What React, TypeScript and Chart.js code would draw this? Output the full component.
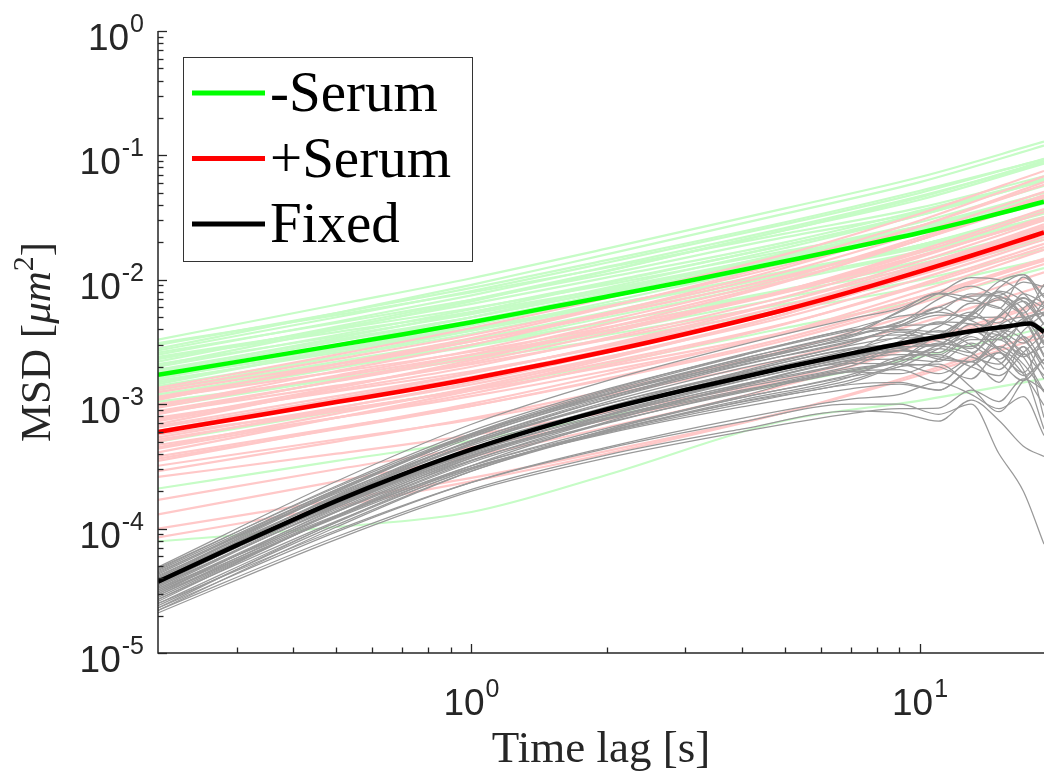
import React, { useEffect, useRef } from 'react';
import { Chart, registerables } from 'chart.js';

Chart.register(...registerables);

// ---------- data ----------
const tMean = [0.2, 0.3, 0.5, 0.7, 1, 1.5, 2, 3, 5, 7, 10, 13, 16, 18.9];
const meanMinusSerum = [1.72e-3, 2.19e-3, 2.97e-3, 3.63e-3, 4.56e-3, 6.01e-3, 7.31e-3, 9.7e-3, 1.41e-2, 1.81e-2, 2.39e-2, 2.99e-2, 3.62e-2, 4.25e-2];
const meanPlusSerum = [5.98e-4, 7.64e-4, 1.04e-3, 1.27e-3, 1.6e-3, 2.14e-3, 2.65e-3, 3.67e-3, 5.75e-3, 8.0e-3, 1.17e-2, 1.56e-2, 1.98e-2, 2.4e-2];
const tFixedMean = [0.2, 0.3, 0.5, 0.7, 1, 1.5, 2, 3, 5, 7, 10, 13, 16, 17.6, 18.9];
const meanFixed = [3.74e-5, 7.36e-5, 1.67e-4, 2.72e-4, 4.33e-4, 6.82e-4, 9.09e-4, 1.3e-3, 1.97e-3, 2.55e-3, 3.28e-3, 3.86e-3, 4.28e-3, 4.45e-3, 3.8e-3];

const tSerum = [0.2, 0.5, 1, 2, 5, 10, 18.9];
const tracksMinusSerum: number[][] = [
  [3.3e-3, 6.3e-3, 1.03e-2, 1.78e-2, 3.75e-2, 6.7e-2, 1.29e-1],
  [3.0e-3, 5.4e-3, 8.6e-3, 1.44e-2, 2.9e-2, 5.2e-2, 9.3e-2],
  [2.8e-3, 5.4e-3, 9.1e-3, 1.6e-2, 3.4e-2, 6.1e-2, 1.2e-1],
  [2.6e-3, 4.5e-3, 6.9e-3, 1.11e-2, 2.2e-2, 3.5e-2, 6.4e-2],
  [2.5e-3, 4.6e-3, 7.5e-3, 1.27e-2, 2.6e-2, 4.7e-2, 8.7e-2],
  [2.4e-3, 4.0e-3, 5.9e-3, 9.1e-3, 1.7e-2, 2.7e-2, 4.7e-2],
  [2.3e-3, 4.1e-3, 6.4e-3, 1.04e-2, 2.0e-2, 3.6e-2, 6.4e-2],
  [2.2e-3, 4.2e-3, 6.9e-3, 1.18e-2, 2.5e-2, 4.4e-2, 8.6e-2],
  [2.1e-3, 3.5e-3, 5.3e-3, 8.4e-3, 1.6e-2, 2.6e-2, 4.6e-2],
  [2.0e-3, 3.6e-3, 5.8e-3, 9.6e-3, 1.9e-2, 3.4e-2, 6.2e-2],
  [1.9e-3, 3.3e-3, 5.0e-3, 8.1e-3, 1.55e-2, 2.7e-2, 4.7e-2],
  [1.85e-3, 3.4e-3, 5.5e-3, 9.4e-3, 1.9e-2, 3.3e-2, 6.5e-2],
  [1.75e-3, 2.8e-3, 4.1e-3, 6.3e-3, 1.13e-2, 1.8e-2, 3.1e-2],
  [1.7e-3, 3.0e-3, 4.7e-3, 7.7e-3, 1.5e-2, 2.6e-2, 4.7e-2],
  [1.6e-3, 3.0e-3, 5.0e-3, 8.6e-3, 1.8e-2, 3.3e-2, 6.3e-2],
  [1.55e-3, 2.6e-3, 3.9e-3, 6.2e-3, 1.17e-2, 1.9e-2, 3.4e-2],
  [1.5e-3, 2.7e-3, 4.3e-3, 7.2e-3, 1.45e-2, 2.5e-2, 4.7e-2],
  [1.4e-3, 2.4e-3, 3.7e-3, 6.0e-3, 1.15e-2, 1.9e-2, 3.5e-2],
  [1.35e-3, 2.1e-3, 3.0e-3, 4.6e-3, 8.0e-3, 1.25e-2, 2.1e-2],
  [1.3e-3, 2.4e-3, 3.9e-3, 6.6e-3, 1.36e-2, 2.4e-2, 4.5e-2],
  [1.2e-3, 2.0e-3, 2.9e-3, 4.5e-3, 8.4e-3, 1.35e-2, 2.35e-2],
  [1.1e-3, 1.95e-3, 3.0e-3, 5.0e-3, 9.8e-3, 1.66e-2, 3.0e-2],
  [1.05e-3, 1.6e-3, 2.3e-3, 3.3e-3, 5.7e-3, 8.8e-3, 1.46e-2],
  [9.5e-4, 1.6e-3, 2.4e-3, 3.8e-3, 7.2e-3, 1.18e-2, 2.1e-2],
  [8.5e-4, 1.54e-3, 2.4e-3, 4.1e-3, 8.2e-3, 1.42e-2, 2.6e-2],
  [5.0e-4, 8.7e-4, 1.33e-3, 2.1e-3, 4.1e-3, 6.8e-3, 1.24e-2],
  [2.1e-4, 3.5e-4, 5.1e-4, 8.0e-4, 1.46e-3, 2.4e-3, 4.1e-3],
  [7.9e-5, 1.03e-4, 1.36e-4, 2.7e-4, 7.4e-4, 1.07e-3, 1.6e-3],
  [3.1e-3, 5.2e-3, 7.9e-3, 1.25e-2, 2.35e-2, 3.8e-2, 6.8e-2],
  [2.7e-3, 5.0e-3, 8.1e-3, 1.37e-2, 2.8e-2, 5.0e-2, 9.4e-2],
  [2.35e-3, 3.8e-3, 5.5e-3, 8.4e-3, 1.5e-2, 2.4e-2, 4.1e-2],
  [2.05e-3, 4.0e-3, 6.7e-3, 1.17e-2, 2.5e-2, 4.6e-2, 9.0e-2],
  [1.8e-3, 3.2e-3, 5.0e-3, 8.1e-3, 1.6e-2, 2.7e-2, 5.0e-2],
  [1.65e-3, 2.7e-3, 4.0e-3, 6.3e-3, 1.15e-2, 1.85e-2, 3.2e-2],
  [1.45e-3, 2.75e-3, 4.5e-3, 7.8e-3, 1.65e-2, 2.9e-2, 5.7e-2],
  [1.25e-3, 2.2e-3, 3.3e-3, 5.3e-3, 1.03e-2, 1.7e-2, 3.1e-2],
  [1.15e-3, 2.1e-3, 3.3e-3, 5.5e-3, 1.1e-2, 1.9e-2, 3.6e-2],
  [1.0e-3, 1.6e-3, 2.35e-3, 3.6e-3, 6.4e-3, 1.0e-2, 1.75e-2],
];
const tracksPlusSerum: number[][] = [
  [1.35e-3, 2.5e-3, 4.1e-3, 7.1e-3, 1.6e-2, 3.4e-2, 7.5e-2],
  [1.25e-3, 2.1e-3, 3.2e-3, 5.2e-3, 1.07e-2, 2.1e-2, 4.4e-2],
  [1.15e-3, 2.0e-3, 3.2e-3, 5.4e-3, 1.16e-2, 2.4e-2, 5.1e-2],
  [1.08e-3, 2.1e-3, 3.4e-3, 6.0e-3, 1.39e-2, 3.0e-2, 6.8e-2],
  [1.0e-3, 1.66e-3, 2.5e-3, 3.9e-3, 7.9e-3, 1.55e-2, 3.1e-2],
  [9.4e-4, 1.7e-3, 2.7e-3, 4.7e-3, 1.03e-2, 2.2e-2, 4.7e-2],
  [8.8e-4, 1.53e-3, 2.35e-3, 3.9e-3, 8.2e-3, 1.66e-2, 3.5e-2],
  [8.3e-4, 1.55e-3, 2.5e-3, 4.4e-3, 9.8e-3, 2.1e-2, 4.6e-2],
  [7.8e-4, 1.27e-3, 1.84e-3, 2.9e-3, 5.7e-3, 1.1e-2, 2.2e-2],
  [7.3e-4, 1.3e-3, 2.0e-3, 3.4e-3, 7.3e-3, 1.52e-2, 3.2e-2],
  [6.9e-4, 1.35e-3, 2.26e-3, 4.1e-3, 9.6e-3, 2.1e-2, 4.8e-2],
  [6.5e-4, 1.1e-3, 1.66e-3, 2.7e-3, 5.6e-3, 1.11e-2, 2.3e-2],
  [6.1e-4, 1.11e-3, 1.77e-3, 3.0e-3, 6.7e-3, 1.41e-2, 3.0e-2],
  [5.7e-4, 9.0e-4, 1.29e-3, 2.0e-3, 3.8e-3, 7.3e-3, 1.42e-2],
  [5.4e-4, 9.4e-4, 1.44e-3, 2.4e-3, 5.0e-3, 1.02e-2, 2.1e-2],
  [5.0e-4, 9.3e-4, 1.5e-3, 2.6e-3, 5.9e-3, 1.27e-2, 2.8e-2],
  [4.7e-4, 7.8e-4, 1.16e-3, 1.85e-3, 3.7e-3, 7.3e-3, 1.48e-2],
  [4.4e-4, 7.8e-4, 1.22e-3, 2.06e-3, 4.4e-3, 9.2e-3, 1.95e-2],
  [4.1e-4, 7.8e-4, 1.29e-3, 2.3e-3, 5.3e-3, 1.15e-2, 2.6e-2],
  [3.8e-4, 6.5e-4, 9.7e-4, 1.58e-3, 3.25e-3, 6.5e-3, 1.34e-2],
  [3.5e-4, 6.4e-4, 1.01e-3, 1.74e-3, 3.8e-3, 8.1e-3, 1.74e-2],
  [3.2e-4, 5.2e-4, 7.5e-4, 1.19e-3, 2.3e-3, 4.5e-3, 9.0e-3],
  [2.9e-4, 5.0e-4, 7.7e-4, 1.28e-3, 2.7e-3, 5.5e-3, 1.15e-2],
  [2.6e-4, 4.0e-4, 5.65e-4, 8.6e-4, 1.6e-3, 3.0e-3, 5.8e-3],
  [1.7e-4, 3.0e-4, 4.5e-4, 7.5e-4, 1.58e-3, 3.2e-3, 6.7e-3],
  [1.3e-4, 2.4e-4, 3.8e-4, 6.5e-4, 1.42e-3, 3.0e-3, 6.5e-3],
  [1.0e-4, 1.7e-4, 2.56e-4, 4.2e-4, 8.6e-4, 1.71e-3, 3.5e-3],
  [8.5e-5, 1.5e-4, 2.4e-4, 4.0e-4, 8.6e-4, 1.78e-3, 3.8e-3],
  [1.3e-3, 2.3e-3, 3.6e-3, 6.1e-3, 1.31e-2, 2.7e-2, 5.8e-2],
  [1.12e-3, 1.82e-3, 2.64e-3, 4.15e-3, 8.1e-3, 1.57e-2, 3.1e-2],
  [9.7e-4, 1.85e-3, 3.0e-3, 5.4e-3, 1.25e-2, 2.7e-2, 6.1e-2],
  [8.5e-4, 1.41e-3, 2.1e-3, 3.3e-3, 6.7e-3, 1.32e-2, 2.7e-2],
  [7.5e-4, 1.37e-3, 2.17e-3, 3.7e-3, 8.2e-3, 1.73e-2, 3.7e-2],
  [6.7e-4, 1.16e-3, 1.79e-3, 2.96e-3, 6.2e-3, 1.27e-2, 2.65e-2],
  [5.9e-4, 1.05e-3, 1.64e-3, 2.76e-3, 5.9e-3, 1.23e-2, 2.6e-2],
  [5.2e-4, 8.8e-4, 1.33e-3, 2.17e-3, 4.45e-3, 8.9e-3, 1.83e-2],
  [4.5e-4, 8.4e-4, 1.36e-3, 2.37e-3, 5.3e-3, 1.15e-2, 2.5e-2],
  [3.65e-4, 6.3e-4, 9.7e-4, 1.61e-3, 3.4e-3, 6.9e-3, 1.44e-2],
];

const tFixed = [0.2, 0.5, 1, 2, 4, 7, 9, 11, 13, 15, 17, 18.9];
const tracksFixed: number[][] = [
  [4.9e-5, 2.4e-4, 6.9e-4, 1.54e-3, 3.0e-3, 4.85e-3, 5.9e-3, 7.7e-3, 6.7e-3, 9.7e-3, 1.1e-2, 7.4e-3],
  [4.6e-5, 2.06e-4, 5.5e-4, 1.15e-3, 2.08e-3, 3.17e-3, 4.2e-3, 5.2e-3, 5.1e-3, 4.5e-3, 7.7e-3, 6.5e-3],
  [4.4e-5, 2.06e-4, 5.7e-4, 1.23e-3, 2.31e-3, 3.63e-3, 4.0e-3, 3.8e-3, 5.3e-3, 7.9e-3, 5.1e-3, 3.1e-3],
  [4.2e-5, 1.79e-4, 4.66e-4, 9.3e-4, 1.63e-3, 2.42e-3, 2.8e-3, 2.3e-3, 2.2e-3, 3.6e-3, 4.6e-3, 2.5e-3],
  [4.1e-5, 2.0e-4, 5.8e-4, 1.29e-3, 2.51e-3, 4.05e-3, 5.1e-3, 5.6e-3, 7.7e-3, 7.4e-3, 4.9e-3, 2.4e-3],
  [4.0e-5, 1.79e-4, 4.8e-4, 1.0e-3, 1.81e-3, 2.76e-3, 3.0e-3, 4.2e-3, 5.5e-3, 3.7e-3, 2.4e-3, 3.3e-3],
  [3.9e-5, 1.83e-4, 5.1e-4, 1.09e-3, 2.05e-3, 3.22e-3, 3.9e-3, 3.6e-3, 5.4e-3, 8.1e-3, 6.7e-3, 4.4e-3],
  [3.8e-5, 1.55e-4, 3.9e-4, 7.5e-4, 1.27e-3, 1.83e-3, 1.9e-3, 1.5e-3, 2.2e-3, 1.5e-3, 2.9e-3, 7.8e-4],
  [3.7e-5, 1.73e-4, 4.8e-4, 1.04e-3, 1.95e-3, 3.06e-3, 4.3e-3, 5.5e-3, 4.7e-3, 3.8e-3, 5.9e-3, 7.8e-3],
  [3.6e-5, 1.61e-4, 4.3e-4, 9.0e-4, 1.63e-3, 2.48e-3, 2.7e-3, 3.6e-3, 4.9e-3, 5.0e-3, 3.5e-3, 1.9e-3],
  [3.5e-5, 1.49e-4, 3.9e-4, 7.8e-4, 1.36e-3, 2.02e-3, 2.7e-3, 2.4e-3, 2.2e-3, 3.4e-3, 4.9e-3, 5.5e-3],
  [3.5e-5, 1.72e-4, 4.9e-4, 1.1e-3, 2.14e-3, 3.46e-3, 4.6e-3, 6.0e-3, 7.4e-3, 7.5e-3, 9.6e-3, 8.8e-3],
  [3.4e-5, 1.52e-4, 4.1e-4, 8.5e-4, 1.54e-3, 2.35e-3, 2.7e-3, 2.6e-3, 4.0e-3, 2.7e-3, 1.8e-3, 3.6e-3],
  [3.3e-5, 1.28e-4, 3.1e-4, 5.8e-4, 9.5e-4, 1.33e-3, 1.45e-3, 1.3e-3, 2.0e-3, 2.9e-3, 2.1e-3, 1.25e-3],
  [3.3e-5, 1.54e-4, 4.3e-4, 9.2e-4, 1.74e-3, 2.73e-3, 3.5e-3, 4.5e-3, 3.8e-3, 5.0e-3, 7.1e-3, 6.0e-3],
  [3.2e-5, 1.36e-4, 3.55e-4, 7.1e-4, 1.24e-3, 1.84e-3, 2.2e-3, 3.0e-3, 3.9e-3, 2.8e-3, 1.9e-3, 6.3e-4],
  [3.1e-5, 1.39e-4, 3.7e-4, 7.7e-4, 1.4e-3, 2.14e-3, 2.85e-3, 2.95e-3, 2.6e-3, 4.3e-3, 5.0e-3, 4.0e-3],
  [3.0e-5, 1.47e-4, 4.2e-4, 9.4e-4, 1.84e-3, 2.97e-3, 3.4e-3, 3.5e-3, 5.2e-3, 6.9e-3, 5.2e-3, 3.0e-3],
  [3.0e-5, 1.22e-4, 3.06e-4, 5.9e-4, 1.0e-3, 1.44e-3, 1.5e-3, 1.3e-3, 2.0e-3, 2.6e-3, 1.75e-3, 9.8e-4],
  [2.9e-5, 1.36e-4, 3.8e-4, 8.1e-4, 1.53e-3, 2.4e-3, 2.9e-3, 3.0e-3, 4.4e-3, 4.0e-3, 3.1e-3, 4.5e-3],
  [2.8e-5, 1.25e-4, 3.4e-4, 7.0e-4, 1.27e-3, 1.93e-3, 2.1e-3, 2.0e-3, 1.6e-3, 2.6e-3, 1.7e-3, 2.3e-3],
  [2.7e-5, 1.15e-4, 3.0e-4, 6.0e-4, 1.05e-3, 1.56e-3, 2.1e-3, 2.8e-3, 2.4e-3, 2.1e-3, 3.5e-3, 2.1e-3],
  [2.6e-5, 1.27e-4, 3.7e-4, 8.2e-4, 1.59e-3, 2.57e-3, 3.1e-3, 3.0e-3, 3.7e-3, 5.1e-3, 6.7e-3, 4.4e-3],
  [2.5e-5, 9.7e-5, 2.35e-4, 4.4e-4, 7.2e-4, 1.0e-3, 1.0e-3, 8.3e-4, 1.0e-3, 4.0e-4, 2.0e-4, 7.5e-5],
  [2.4e-5, 1.07e-4, 2.9e-4, 6.0e-4, 1.08e-3, 1.66e-3, 2.4e-3, 2.5e-3, 2.0e-3, 1.7e-3, 2.6e-3, 3.7e-3],
  [2.3e-5, 9.4e-5, 2.35e-4, 4.5e-4, 7.7e-4, 1.1e-3, 1.2e-3, 1.5e-3, 1.2e-3, 9.2e-4, 1.15e-3, 5.6e-4],
  [2.2e-5, 1.03e-4, 2.9e-4, 6.2e-4, 1.16e-3, 1.82e-3, 1.76e-3, 2.3e-3, 3.3e-3, 3.3e-3, 2.5e-3, 2.9e-3],
  [2.1e-5, 8.2e-5, 2.0e-4, 3.7e-4, 6.0e-4, 8.4e-4, 9.2e-4, 9.3e-4, 1.3e-3, 1.05e-3, 1.6e-3, 1.3e-3],
  [3.8e-5, 1.86e-4, 5.4e-4, 1.19e-3, 2.33e-3, 3.76e-3, 5.5e-3, 7.8e-3, 1.04e-2, 1.0e-2, 7.8e-3, 5.1e-3],
  [4.3e-5, 2.0e-4, 5.6e-4, 1.2e-3, 2.26e-3, 3.55e-3, 5.6e-3, 7.8e-3, 7.1e-3, 5.9e-3, 1.05e-2, 7.2e-3],
  [4.7e-5, 2.2e-4, 6.1e-4, 1.32e-3, 2.47e-3, 3.88e-3, 4.5e-3, 7.0e-3, 8.9e-3, 7.1e-3, 5.4e-3, 9.2e-3],
  [4.5e-5, 1.92e-4, 5.0e-4, 1.0e-3, 1.75e-3, 2.59e-3, 3.8e-3, 3.2e-3, 2.8e-3, 5.2e-3, 7.2e-3, 4.4e-3],
  [4.0e-5, 1.96e-4, 5.6e-4, 1.26e-3, 2.45e-3, 3.96e-3, 4.3e-3, 6.0e-3, 4.8e-3, 8.6e-3, 1.1e-2, 6.1e-3],
  [3.9e-5, 1.59e-4, 4.0e-4, 7.7e-4, 1.3e-3, 1.88e-3, 2.3e-3, 3.4e-3, 2.6e-3, 1.9e-3, 2.9e-3, 1.6e-3],
  [3.7e-5, 1.58e-4, 4.1e-4, 8.2e-4, 1.44e-3, 2.13e-3, 2.1e-3, 1.76e-3, 2.45e-3, 3.6e-3, 2.4e-3, 1.27e-3],
  [3.6e-5, 1.76e-4, 5.1e-4, 1.13e-3, 2.2e-3, 3.56e-3, 4.3e-3, 4.4e-3, 6.5e-3, 6.0e-3, 4.3e-3, 6.7e-3],
  [3.4e-5, 1.59e-4, 4.4e-4, 9.5e-4, 1.79e-3, 2.81e-3, 3.1e-3, 3.9e-3, 3.0e-3, 2.3e-3, 3.9e-3, 5.3e-3],
  [3.2e-5, 1.43e-4, 3.84e-4, 8.0e-4, 1.45e-3, 2.21e-3, 3.2e-3, 4.6e-3, 4.4e-3, 3.3e-3, 4.6e-3, 6.0e-3],
  [3.1e-5, 1.26e-4, 3.2e-4, 6.1e-4, 1.04e-3, 1.49e-3, 2.0e-3, 2.1e-3, 1.37e-3, 8.7e-4, 1.55e-3, 2.3e-3],
  [2.9e-5, 1.24e-4, 3.2e-4, 6.4e-4, 1.13e-3, 1.67e-3, 2.0e-3, 2.8e-3, 3.8e-3, 3.6e-3, 2.6e-3, 1.7e-3],
  [2.7e-5, 1.26e-4, 3.5e-4, 7.6e-4, 1.42e-3, 2.23e-3, 2.3e-3, 2.2e-3, 3.1e-3, 2.2e-3, 1.55e-3, 2.3e-3],
  [2.5e-5, 1.12e-4, 3.0e-4, 6.2e-4, 1.13e-3, 1.73e-3, 2.3e-3, 3.1e-3, 2.9e-3, 4.0e-3, 3.3e-3, 2.1e-3],
  [2.3e-5, 1.13e-4, 3.2e-4, 7.2e-4, 1.41e-3, 2.27e-3, 2.5e-3, 2.5e-3, 3.5e-3, 2.8e-3, 4.7e-3, 5.4e-3],
  [2.2e-5, 8.6e-5, 2.07e-4, 3.9e-4, 6.3e-4, 8.8e-4, 8.5e-4, 7.3e-4, 1.08e-3, 7.4e-4, 4.6e-4, 3.8e-4],
  [4.8e-5, 2.15e-4, 5.8e-4, 1.2e-3, 2.17e-3, 3.31e-3, 3.6e-3, 3.4e-3, 5.1e-3, 7.2e-3, 5.8e-3, 3.1e-3],
];

const legendLabels = ['-Serum', '+Serum', 'Fixed'];
const yMajorTicks = [1e-5, 1e-4, 1e-3, 1e-2, 1e-1, 1];
const yTickExponents = ['-5', '-4', '-3', '-2', '-1', '0'];
const xMajorTicks = [1, 10];
const xTickExponents = ['0', '1'];
const minorMultipliers = [2, 3, 4, 5, 6, 7, 8, 9];
const X_MIN = 0.2;
const X_MAX = 18.9;
const Y_MIN = 1e-5;
const Y_MAX = 1;

// ---------- styles ----------
const COLOR_GREEN = '#00ff00';
const COLOR_RED = '#ff0000';
const COLOR_BLACK = '#000000';
const COLOR_GREEN_LIGHT = '#c6fcc6';
const COLOR_RED_LIGHT = '#ffc8c8';
const COLOR_GRAY = '#999999';
const AXIS_COLOR = '#262626';
const SANS = '"Liberation Sans", Arial, Helvetica, sans-serif';
const SERIF = '"Liberation Serif", "Times New Roman", serif';

function toPoints(xs: number[], ys: number[]) {
  return ys.map((y, i) => ({ x: xs[i], y }));
}

const matlabAxesPlugin = {
  id: 'matlabAxes',
  afterDraw(chart: any) {
    const ctx: CanvasRenderingContext2D = chart.ctx;
    const { left, right, top, bottom } = chart.chartArea;
    const xs = chart.scales.x;
    const ys = chart.scales.y;
    ctx.save();

    // axis lines
    ctx.strokeStyle = AXIS_COLOR;
    ctx.lineWidth = 1.5;
    ctx.beginPath();
    ctx.moveTo(left, top);
    ctx.lineTo(left, bottom);
    ctx.lineTo(right, bottom);
    ctx.stroke();

    // y ticks
    ctx.lineWidth = 1.3;
    for (let k = 0; k < yMajorTicks.length; k++) {
      const v = yMajorTicks[k];
      const py = Math.round(ys.getPixelForValue(v)) + 0.5;
      ctx.beginPath();
      ctx.moveTo(left, py);
      ctx.lineTo(left + 9, py);
      ctx.stroke();
      if (v < Y_MAX) {
        for (const m of minorMultipliers) {
          const pm = Math.round(ys.getPixelForValue(v * m)) + 0.5;
          ctx.beginPath();
          ctx.moveTo(left, pm);
          ctx.lineTo(left + 5.5, pm);
          ctx.stroke();
        }
      }
    }
    // x ticks
    const decadesX = [0.1, 1, 10];
    for (const d of decadesX) {
      for (const m of [1, ...minorMultipliers]) {
        const v = d * m;
        if (v <= X_MIN || v > X_MAX) continue;
        const px = Math.round(xs.getPixelForValue(v)) + 0.5;
        const len = m === 1 ? 9 : 5.5;
        ctx.beginPath();
        ctx.moveTo(px, bottom);
        ctx.lineTo(px, bottom - len);
        ctx.stroke();
      }
    }

    // tick labels
    ctx.fillStyle = AXIS_COLOR;
    ctx.textBaseline = 'alphabetic';
    const mainFont = `37px ${SANS}`;
    const supFont = `25px ${SANS}`;
    for (let k = 0; k < yMajorTicks.length; k++) {
      const py = ys.getPixelForValue(yMajorTicks[k]);
      ctx.font = supFont;
      const wSup = ctx.measureText(yTickExponents[k]).width;
      ctx.font = mainFont;
      const wMain = ctx.measureText('10').width;
      const xEnd = 144;
      ctx.textAlign = 'left';
      ctx.fillText('10', xEnd - wSup - wMain - 1, py + 19);
      ctx.font = supFont;
      ctx.fillText(yTickExponents[k], xEnd - wSup, py + 1);
    }
    for (let k = 0; k < xMajorTicks.length; k++) {
      const px = xs.getPixelForValue(xMajorTicks[k]);
      ctx.font = supFont;
      const wSup = ctx.measureText(xTickExponents[k]).width;
      ctx.font = mainFont;
      const wMain = ctx.measureText('10').width;
      const x0 = px - (wMain + wSup + 1) / 2;
      ctx.textAlign = 'left';
      ctx.fillText('10', x0, bottom + 62);
      ctx.font = supFont;
      ctx.fillText(xTickExponents[k], x0 + wMain + 1, bottom + 44);
    }

    // x axis title
    ctx.font = `45px ${SERIF}`;
    ctx.textAlign = 'center';
    ctx.fillText('Time lag [s]', (left + right) / 2, 762);

    // y axis title (rotated)
    ctx.save();
    ctx.translate(50, (top + bottom) / 2);
    ctx.rotate(-Math.PI / 2);
    const parts = [
      { t: 'MSD ', f: `43px ${SERIF}`, dy: 0 },
      { t: '[', f: `43px ${SERIF}`, dy: 0 },
      { t: '\u03BCm', f: `italic 43px ${SERIF}`, dy: 0 },
      { t: '2', f: `30px ${SERIF}`, dy: -17 },
      { t: ']', f: `43px ${SERIF}`, dy: 0 },
    ];
    let total = 0;
    const widths: number[] = [];
    for (const p of parts) {
      ctx.font = p.f;
      const w = ctx.measureText(p.t).width;
      widths.push(w);
      total += w;
    }
    let cx = -total / 2;
    ctx.textAlign = 'left';
    parts.forEach((p, i) => {
      ctx.font = p.f;
      ctx.fillText(p.t, cx, p.dy);
      cx += widths[i];
    });
    ctx.restore();

    // legend
    const lx = 183, ly = 57, lw = 289, lh = 204;
    ctx.fillStyle = '#ffffff';
    ctx.fillRect(lx, ly, lw, lh);
    ctx.strokeStyle = '#333333';
    ctx.lineWidth = 1;
    ctx.strokeRect(lx + 0.5, ly + 0.5, lw, lh);
    const rowY = [93, 158.5, 224];
    const colors = [COLOR_GREEN, COLOR_RED, COLOR_BLACK];
    ctx.font = `57px ${SERIF}`;
    ctx.textAlign = 'left';
    for (let i = 0; i < legendLabels.length; i++) {
      ctx.strokeStyle = colors[i];
      ctx.lineWidth = 5;
      ctx.beginPath();
      ctx.moveTo(192, rowY[i]);
      ctx.lineTo(265, rowY[i]);
      ctx.stroke();
      ctx.fillStyle = '#000000';
      ctx.fillText(legendLabels[i], 270, rowY[i] + 18);
    }
    ctx.restore();
  },
};

export default function App() {
  const canvasRef = useRef<HTMLCanvasElement | null>(null);

  useEffect(() => {
    const canvas = canvasRef.current;
    if (!canvas) return;
    const line = (data: any, color: string, width: number, order: number) => ({
      data,
      borderColor: color,
      borderWidth: width,
      pointRadius: 0,
      fill: false,
      cubicInterpolationMode: 'monotone' as const,
      order,
    });
    const datasets: any[] = [];
    tracksMinusSerum.forEach((tr) => datasets.push(line(toPoints(tSerum, tr), COLOR_GREEN_LIGHT, 2.2, 30)));
    tracksPlusSerum.forEach((tr) => datasets.push(line(toPoints(tSerum, tr), COLOR_RED_LIGHT, 2.2, 20)));
    tracksFixed.forEach((tr) => datasets.push(line(toPoints(tFixed, tr), COLOR_GRAY, 1.25, 10)));
    datasets.push(line(toPoints(tMean, meanMinusSerum), COLOR_GREEN, 4.5, 2));
    datasets.push(line(toPoints(tMean, meanPlusSerum), COLOR_RED, 4.5, 1));
    datasets.push(line(toPoints(tFixedMean, meanFixed), COLOR_BLACK, 4.5, 0));

    const chart = new Chart(canvas, {
      type: 'line',
      data: { datasets },
      options: {
        animation: false,
        responsive: false,
        devicePixelRatio: 1,
        layout: { padding: { left: 158, right: 0, top: 31, bottom: 123 } },
        scales: {
          x: { type: 'logarithmic', min: X_MIN, max: X_MAX, display: false },
          y: { type: 'logarithmic', min: Y_MIN, max: Y_MAX, display: false },
        },
        plugins: { legend: { display: false }, tooltip: { enabled: false } },
        elements: { point: { radius: 0 } },
      },
      plugins: [matlabAxesPlugin],
    });
    return () => chart.destroy();
  }, []);

  return (
    <div style={{ position: 'absolute', left: 0, top: 0, width: 1044, height: 776, background: '#fff' }}>
      <canvas ref={canvasRef} width={1044} height={776} style={{ display: 'block' }} />
    </div>
  );
}
